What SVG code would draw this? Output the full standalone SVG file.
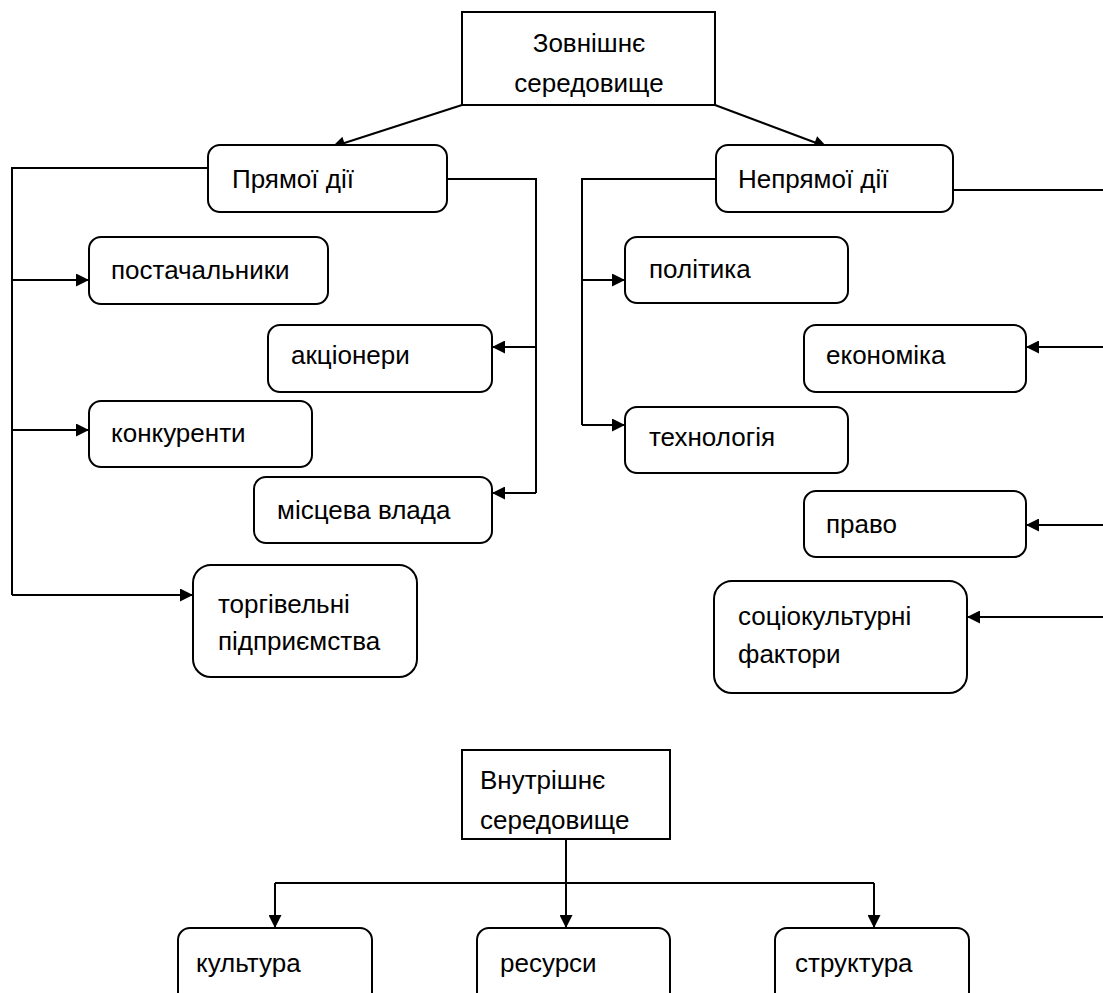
<svg xmlns="http://www.w3.org/2000/svg" width="1103" height="993" viewBox="0 0 1103 993">
<style>
  .box{fill:#fff;stroke:#000;stroke-width:2}
  .t{font-family:"Liberation Sans",Arial,sans-serif;font-size:26px;fill:#000}
  .c{fill:none;stroke:#000;stroke-width:2}
</style>
<defs>
  <marker id="ah" viewBox="0 0 10 10" refX="10" refY="5" markerUnits="userSpaceOnUse" markerWidth="16" markerHeight="13" orient="auto">
    <path d="M0,0 L10,5 L0,10 z" fill="#000"/>
  </marker>
</defs>
<rect width="1103" height="993" fill="#fff"/>
<g id="connectors">
  <path class="c" d="M462,105 L332,147" marker-end="url(#ah)"/>
  <path class="c" d="M715,105 L827,147" marker-end="url(#ah)"/>
  <path class="c" d="M208,168 H12 V595"/>
  <path class="c" d="M12,280 H89" marker-end="url(#ah)"/>
  <path class="c" d="M12,430 H89" marker-end="url(#ah)"/>
  <path class="c" d="M12,595 H193" marker-end="url(#ah)"/>
  <path class="c" d="M447,179 H536 V493"/>
  <path class="c" d="M536,347 H492" marker-end="url(#ah)"/>
  <path class="c" d="M536,493 H492" marker-end="url(#ah)"/>
  <path class="c" d="M716,179 H582 V425"/>
  <path class="c" d="M582,280 H625" marker-end="url(#ah)"/>
  <path class="c" d="M582,425 H625" marker-end="url(#ah)"/>
  <path class="c" d="M953,190 H1104"/>
  <path class="c" d="M1104,347 H1026" marker-end="url(#ah)"/>
  <path class="c" d="M1104,525 H1026" marker-end="url(#ah)"/>
  <path class="c" d="M1104,617 H967" marker-end="url(#ah)"/>
  <path class="c" d="M566,839 V928" marker-end="url(#ah)"/>
  <path class="c" d="M275,883 H874"/>
  <path class="c" d="M275,883 V928" marker-end="url(#ah)"/>
  <path class="c" d="M874,883 V928" marker-end="url(#ah)"/>
</g>
<g id="external">
  <rect class="box" x="462" y="12" width="253" height="93"/>
  <text class="t" x="589" y="52" text-anchor="middle">Зовнішнє</text>
  <text class="t" x="589" y="92" text-anchor="middle">середовище</text>
</g>
<g id="direct">
  <rect class="box" x="208" y="145" width="239" height="67" rx="12"/>
  <text class="t" x="232" y="188">Прямої дії</text>
</g>
<g id="indirect">
  <rect class="box" x="716" y="145" width="237" height="67" rx="12"/>
  <text class="t" x="738" y="188">Непрямої дії</text>
</g>
<g id="suppliers">
  <rect class="box" x="89" y="237" width="239" height="67" rx="12"/>
  <text class="t" x="111" y="279">постачальники</text>
</g>
<g id="shareholders">
  <rect class="box" x="268" y="325" width="224" height="67" rx="12"/>
  <text class="t" x="291" y="364">акціонери</text>
</g>
<g id="competitors">
  <rect class="box" x="89" y="401" width="223" height="66" rx="12"/>
  <text class="t" x="111" y="442">конкуренти</text>
</g>
<g id="local-gov">
  <rect class="box" x="254" y="477" width="238" height="66" rx="12"/>
  <text class="t" x="277" y="519">місцева влада</text>
</g>
<g id="trade">
  <rect class="box" x="193" y="565" width="224" height="112" rx="18"/>
  <text class="t" x="218" y="613">торгівельні</text>
  <text class="t" x="218" y="650">підприємства</text>
</g>
<g id="politics">
  <rect class="box" x="625" y="237" width="223" height="66" rx="12"/>
  <text class="t" x="649" y="278">політика</text>
</g>
<g id="economy">
  <rect class="box" x="804" y="325" width="222" height="67" rx="12"/>
  <text class="t" x="826" y="364">економіка</text>
</g>
<g id="technology">
  <rect class="box" x="625" y="407" width="223" height="66" rx="12"/>
  <text class="t" x="649" y="446">технологія</text>
</g>
<g id="law">
  <rect class="box" x="804" y="491" width="222" height="66" rx="12"/>
  <text class="t" x="826" y="533">право</text>
</g>
<g id="sociocultural">
  <rect class="box" x="714" y="581" width="253" height="112" rx="18"/>
  <text class="t" x="738" y="625">соціокультурні</text>
  <text class="t" x="738" y="663">фактори</text>
</g>
<g id="internal">
  <rect class="box" x="462" y="750" width="208" height="89"/>
  <text class="t" x="480" y="789">Внутрішнє</text>
  <text class="t" x="480" y="829">середовище</text>
</g>
<g id="culture">
  <rect class="box" x="178" y="928" width="194" height="90" rx="12"/>
  <text class="t" x="196" y="972">культура</text>
</g>
<g id="resources">
  <rect class="box" x="477" y="928" width="193" height="90" rx="12"/>
  <text class="t" x="500" y="972">ресурси</text>
</g>
<g id="structure">
  <rect class="box" x="775" y="928" width="194" height="90" rx="12"/>
  <text class="t" x="795" y="972">структура</text>
</g>
</svg>
